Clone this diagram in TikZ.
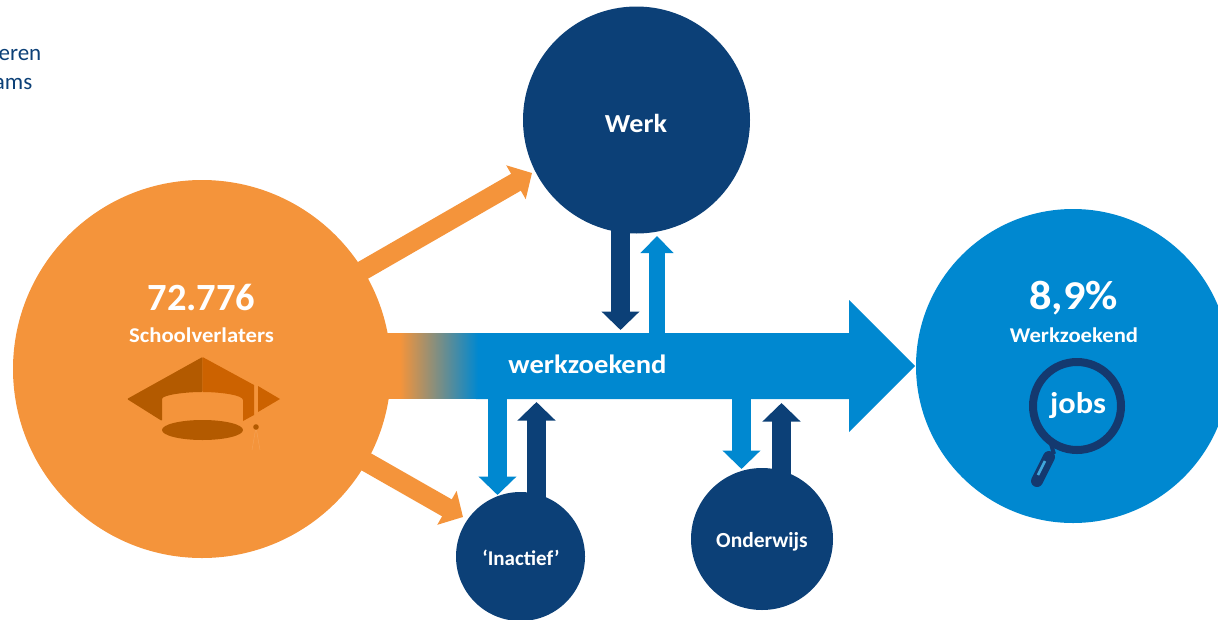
\documentclass[tikz,border=0pt]{standalone}
\usepackage{fontspec}
\setmainfont{Carlito}
\newfontfamily\widefont[FakeStretch=1.08]{Carlito}
\usetikzlibrary{arrows.meta,calc}
\pgfdeclarelayer{under}
\pgfsetlayers{under,main}
\definecolor{orangeC}{HTML}{F4943B}
\definecolor{navyC}{HTML}{0C4077}
\definecolor{blueC}{HTML}{0088D0}
\definecolor{capD}{HTML}{B35A00}
\definecolor{capL}{HTML}{CC6200}
\definecolor{glass}{HTML}{14396F}
\tikzset{
  x=1pt,y=-1pt,
  circ/.style={circle,inner sep=0pt,outer sep=0pt,minimum size=#1},
  diag/.style={orangeC,line width=19.5pt,-{Triangle[length=18.5pt,width=38pt]}},
  navyarrow/.style={navyC,line width=19pt,-{Triangle[length=18.5pt,width=37pt]}},
  bluearrow/.style={blueC,line width=19pt,-{Triangle[length=18.5pt,width=37pt]}},
  smallblue/.style={blueC,line width=16.5pt,-{Triangle[length=17pt,width=32pt]}},
  lbl/.style={text=white,inner sep=0pt,anchor=center},
}
\begin{document}
\begin{tikzpicture}
\useasboundingbox (0,0) rectangle (1218,619);
\clip (0,0) rectangle (1218,619);
% circle nodes
\node[circ=378pt,fill=orangeC] (school) at (202,369) {};
\node[circ=227pt,fill=navyC] (werk) at (636.5,120) {};
\node[circ=314pt,fill=blueC] (zoek) at (1073,366) {};
\node[circ=129pt,fill=navyC] (inactief) at (520.5,556.5) {};
\node[circ=142pt,fill=navyC] (onderwijs) at (762,539) {};
% connector ends
\coordinate (d1) at (532,173);
\coordinate (d2) at (463,517);
\coordinate (m1) at (620.5,330);
\coordinate (m2) at (657,236);
\coordinate (m3) at (497.5,495);
\coordinate (m4) at (536.5,402);
\coordinate (m5) at (741.5,469);
\coordinate (m6) at (781.5,403);
\begin{pgfonlayer}{under}
% main arrow
\fill[blueC] (476,333) -- (849,333) -- (849,300) -- (915,366) -- (849,432) -- (849,399) -- (476,399) -- cycle;
\begin{scope}
\clip (380,333.4) rectangle (478,398.4);
\fill[orangeC] (380,333) rectangle (401,399);
\shade[left color=orangeC,right color=blueC,shading=axis] (400,330) rectangle (478,402);
\end{scope}
% diagonals
\draw[diag] ($(school)+(40,-29)$) -- (d1);
\draw[diag] ($(school)+(40,22)$) -- (d2);
% vertical arrows
\draw[navyarrow] (m1 |- werk.center) -- (m1);
\draw[smallblue] (m2 |- 0,340) -- (m2);
\draw[bluearrow] (m3 |- 0,390) -- (m3);
\draw[navyarrow] (m4 |- inactief.center) -- (m4);
\draw[bluearrow] (m5 |- 0,390) -- (m5);
\draw[navyarrow] (m6 |- onderwijs.center) -- (m6);
\end{pgfonlayer}
% labels
\node[lbl,font=\widefont\bfseries\fontsize{26}{30}\selectfont] at (636,123) {Werk};
\node[lbl,font=\widefont\bfseries\fontsize{26.5}{30}\selectfont] at (587.5,364) {werkzoekend};
\node[lbl,font=\bfseries\fontsize{21}{25}\selectfont] at (521,558) {‘Inactief’};
\node[lbl,font=\bfseries\fontsize{21.5}{25}\selectfont] at (762,542) {Onderwijs};
\node[lbl,font=\bfseries\fontsize{38.5}{45}\selectfont] at (201.5,297.5) {72.776};
\node[lbl,font=\widefont\bfseries\fontsize{21}{25}\selectfont] at (201.5,335) {Schoolverlaters};
\node[lbl,font=\widefont\bfseries\fontsize{41}{45}\selectfont] at (1073.5,298) {8,9\%};
\node[lbl,font=\widefont\bfseries\fontsize{21}{25}\selectfont] at (1074,335) {Werkzoekend};
\node[font=\fontsize{23}{28}\selectfont,text=navyC,inner sep=0pt,anchor=east] at (41.5,55) {eren};
\node[font=\fontsize{23}{28}\selectfont,text=navyC,inner sep=0pt,anchor=east] at (32.5,84) {ams};
% graduation cap
\fill[capD,rounded corners=1pt] (202.5,357) -- (127,399) -- (162,421) -- (162,400) .. controls (162,395) and (185,392) .. (202.5,392) -- cycle;
\fill[capL] (202.5,357) -- (254,385) -- (254,415) -- (243,421) -- (243,400) .. controls (243,395) and (220,392) .. (202.5,392) -- cycle;
\fill[capL] (258,386) -- (280,399) -- (258,412) -- cycle;
\fill[capD] (202.5,430) ellipse [x radius=40.5,y radius=10];
\fill[capD] (256,427) circle (2.8);
\draw[orangeC!85!white,line width=0.4pt] (255.5,430) -- (252,450) (256.5,430) -- (260,450);
% magnifier
\draw[glass,line width=8pt] (1077,406) circle (44);
\node[lbl,font=\widefont\bfseries\fontsize{30}{34}\selectfont] at (1078,406) {jobs};
\draw[glass,line width=4pt] (1051,444) -- (1054,454);
\draw[glass,line width=12pt,line cap=round] (1049,457) -- (1037,481);
\draw[blueC!75!white,line width=2.5pt] (1045,461) -- (1038,475);
\end{tikzpicture}
\end{document}
